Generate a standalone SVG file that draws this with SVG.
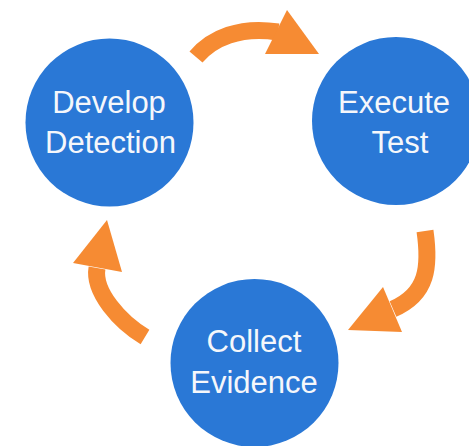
<svg xmlns="http://www.w3.org/2000/svg" width="469" height="446" viewBox="0 0 469 446">
<style>
.node circle{fill:#2a78d6}
.node text{fill:#f5f7fb;font-family:"Liberation Sans",Arial,sans-serif;font-size:31px;text-anchor:middle}
.band{fill:none;stroke:#f68b33;stroke-width:17;stroke-linecap:butt}
.head{fill:#f68b33}
</style>
<rect width="469" height="446" fill="#ffffff"/>
<g id="connectors">
<path class="band" d="M196,57 C212,38 240,26 278,32"/>
<polygon class="head" points="287,10 319,54 265,54"/>
<path class="band" d="M425,231 C430,266 428,294 393,309"/>
<polygon class="head" points="348,330 383,287 402,332"/>
<path class="band" d="M145,337 C120,322 93,292 97,268"/>
<polygon class="head" points="107,220 73,263 122,272"/>
</g>
<g id="develop-detection" class="node">
<circle cx="109.5" cy="122.5" r="84"/>
<text x="109" y="113">Develop</text>
<text x="110.5" y="153">Detection</text>
</g>
<g id="execute-test" class="node">
<circle cx="396" cy="121" r="84"/>
<text x="394" y="113">Execute</text>
<text x="400" y="153">Test</text>
</g>
<g id="collect-evidence" class="node">
<circle cx="254.5" cy="363" r="84"/>
<text x="254" y="352">Collect</text>
<text x="254" y="393">Evidence</text>
</g>
</svg>
